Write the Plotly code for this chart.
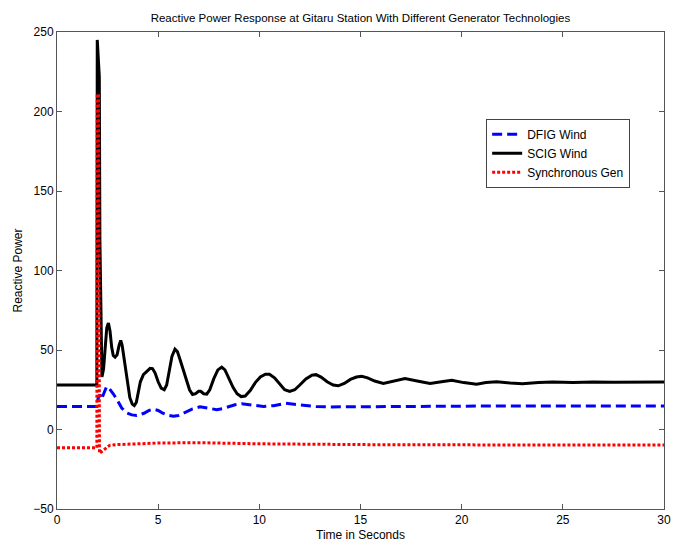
import plotly.graph_objects as go

# SCIG Wind (black)
scig_t = [0, 1.97, 1.99, 2.09, 2.12, 2.18, 2.22, 2.3, 2.38, 2.46, 2.54, 2.62, 2.7, 2.78, 2.87, 2.97, 3.07,
          3.15, 3.22, 3.32, 3.45, 3.6, 3.72, 3.82, 3.92, 4.02, 4.12, 4.27, 4.45, 4.6, 4.72, 4.85, 5.0, 5.15,
          5.3, 5.42, 5.55, 5.68, 5.83, 5.95, 6.08, 6.24, 6.4, 6.55, 6.7, 6.85, 7.0, 7.1, 7.25, 7.4, 7.55,
          7.75, 7.95, 8.14, 8.3, 8.5, 8.7, 8.9, 9.1, 9.3, 9.55, 9.8, 10.05, 10.3, 10.5, 10.75, 11.0, 11.25,
          11.5, 11.75, 12.0, 12.3, 12.6, 12.8, 13.05, 13.35, 13.65, 13.9, 14.2, 14.5, 14.8, 15.06, 15.35,
          15.7, 16.13, 16.6, 17.2, 17.8, 18.44, 19.0, 19.51, 20.1, 20.74, 21.2, 21.73, 22.4, 23.0, 23.8,
          24.5, 25.5, 26.5, 27.5, 28.5, 30]
scig_v = [28, 28, 245, 222, 120, 40, 33, 38, 52, 64, 67, 62, 52, 46.5, 45.5, 47, 53,
          56, 53, 44, 31, 20, 16, 15, 17, 23, 30, 34.5, 37, 38.5, 38.3, 35.5, 30, 26,
          25, 28, 37, 46, 50.5, 49, 44, 38, 31, 25, 22, 22.5, 24, 24, 22.5, 22.2, 25,
          32, 37.5, 39.2, 37.5, 32, 26.5, 22.5, 20.7, 21, 24.5, 29.5, 33, 34.8, 34.8, 32.5, 28.5, 25,
          24, 25, 28, 31.8, 34.2, 34.5, 33, 30, 28, 27.5, 29, 31.5, 33, 33.5, 32.5,
          30.5, 29, 30.5, 32, 30.5, 29, 30, 31, 29.5, 28.5, 29.5, 30, 29.2, 28.8, 29.5,
          29.8, 29.6, 29.9, 29.7, 29.9, 29.8]

# DFIG Wind (blue dashed)
dfig_t = [0, 1.97, 2.02, 2.12, 2.2, 2.3, 2.45, 2.6, 2.78, 3.0, 3.2, 3.44, 3.7, 3.94, 4.3, 4.55, 4.76, 5.0,
          5.2, 5.5, 5.75, 6.0, 6.3, 6.7, 7.07, 7.5, 7.89, 8.2, 8.5, 8.8, 9.13, 9.6, 10.2, 10.7, 11.3, 12.0,
          12.8, 13.5, 14.5, 15.5, 16.5, 18, 20, 22, 24, 26, 28, 30]
dfig_v = [14.5, 14.5, 19, 22, 19, 22, 27, 25.5, 22.5, 18, 13.5, 10.5, 9.2, 8.8, 10.2, 12, 12.7, 12,
          10.5, 9, 8.3, 8.8, 10.5, 13, 14.3, 13.5, 12.5, 13.2, 14.5, 15.6, 16.2, 15.5, 14.5, 15, 16.5, 15.5,
          14.5, 14.2, 14.3, 14.6, 14.5, 14.6, 14.8, 14.8, 14.8, 14.8, 14.8, 14.8]

# Synchronous Gen (red dotted)
sync_t = [0, 1.97, 1.99, 2.05, 2.1, 2.3, 2.6, 3.0, 4, 5, 7, 10, 15, 20, 25, 30]
sync_v = [-11.5, -11.5, 211, 211, -15, -13, -10, -9.5, -9, -8.5, -8.3, -9, -9.5, -9.8, -9.8, -9.8]

x_ticks = [0, 5, 10, 15, 20, 25, 30]
y_ticks = [-50, 0, 50, 100, 150, 200, 250]

fig = go.Figure()
fig.add_trace(go.Scatter(x=dfig_t, y=dfig_v, mode="lines", name="DFIG Wind",
                         line=dict(color="#0000ff", width=3, dash="10px,5px")))
fig.add_trace(go.Scatter(x=scig_t, y=scig_v, mode="lines", name="SCIG Wind",
                         line=dict(color="#000000", width=3)))
fig.add_trace(go.Scatter(x=sync_t, y=sync_v, mode="lines", name="Synchronous Gen",
                         line=dict(color="#ff0000", width=3, dash="3px,2px")))

axis_common = dict(showline=True, linecolor="#555555", linewidth=1, mirror="ticks",
                   ticks="inside", ticklen=5, tickcolor="#555555", showgrid=False,
                   zeroline=False, automargin=False, tickfont=dict(size=12, color="#000000"))

fig.update_layout(
    width=678, height=544,
    paper_bgcolor="white", plot_bgcolor="white",
    font=dict(family="Liberation Sans, Arial, sans-serif", size=12, color="#000000"),
    margin=dict(l=57, r=14, t=32, b=35),
    title=dict(text="Reactive Power Response at Gitaru Station With Different Generator Technologies",
               x=0.5316, xanchor="center", y=0.967, yanchor="middle", font=dict(size=11.5)),
    xaxis=dict(range=[0, 30], tickvals=x_ticks, title=dict(text="Time in Seconds", standoff=4, font=dict(size=12)),
               **axis_common),
    yaxis=dict(range=[-50, 250], tickvals=y_ticks, title=dict(text="Reactive Power", standoff=8, font=dict(size=12)),
               **axis_common),
    legend=dict(x=0.707, y=0.818, xanchor="left", yanchor="top", bgcolor="white",
                bordercolor="#444444", borderwidth=1, font=dict(size=12),
                tracegroupgap=0, itemwidth=30),
    showlegend=True,
)

fig.write_html("out.html", config={"displayModeBar": False},
               post_script="document.body.style.margin='0';document.body.style.overflow='hidden';")
